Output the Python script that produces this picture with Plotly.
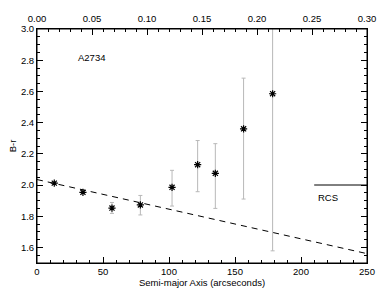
import plotly.graph_objects as go

# Data
radius = [13.1, 34.8, 56.8, 78.3, 102.3, 121.7, 135.1, 156.5, 178.5]
color_br = [2.012, 1.953, 1.852, 1.872, 1.985, 2.13, 2.075, 2.36, 2.585]
err_hi = [2.02, 1.96, 1.888, 1.933, 2.094, 2.285, 2.265, 2.685, 3.05]
err_lo = [2.005, 1.945, 1.818, 1.808, 1.865, 1.957, 1.85, 1.91, 1.578]
fit_x = [0, 250]
fit_y = [2.035, 1.56]
rcs_x = [210, 250]
rcs_y = [2.0, 2.0]

FONT = "Liberation Sans, Arial, sans-serif"
FS = 9.5

fig = go.Figure()

fig.add_trace(go.Scatter(
    x=fit_x, y=fit_y, mode="lines",
    line=dict(color="black", width=1, dash="6px,5px"),
    hoverinfo="skip", showlegend=False))

fig.add_trace(go.Scatter(
    x=rcs_x, y=rcs_y, mode="lines",
    line=dict(color="black", width=1),
    hoverinfo="skip", showlegend=False))

fig.add_trace(go.Scatter(
    x=radius, y=color_br, mode="markers",
    marker=dict(symbol="asterisk-open", size=6, color="black",
                line=dict(color="black", width=1.2)),
    error_y=dict(type="data", symmetric=False,
                 array=[h - v for h, v in zip(err_hi, color_br)],
                 arrayminus=[v - l for l, v in zip(err_lo, color_br)],
                 color="#b8b8b8", thickness=1, width=2),
    showlegend=False))

# invisible traces for the top and right axes
fig.add_trace(go.Scatter(x=[0, 0.30], y=[2.0, 2.0], xaxis="x2", yaxis="y", mode="markers",
                         marker=dict(opacity=0), hoverinfo="skip", showlegend=False))
fig.add_trace(go.Scatter(x=[0, 250], y=[2.0, 2.0], xaxis="x", yaxis="y2", mode="markers",
                         marker=dict(opacity=0), hoverinfo="skip", showlegend=False))

fig.add_annotation(x=29.5, y=2.82, text="A2734", showarrow=False, xanchor="left",
                   font=dict(family=FONT, size=FS, color="black"))
fig.add_annotation(x=211, y=1.92, text="RCS", showarrow=False, xanchor="left",
                   font=dict(family=FONT, size=FS, color="black"))

# frame around the plot area
fig.add_shape(type="rect", xref="paper", yref="paper", x0=0, x1=1, y0=0, y1=1,
              line=dict(color="black", width=1), layer="above")

axis_common = dict(showgrid=False, zeroline=False, showline=True, linecolor="black",
                   linewidth=1, ticks="inside", tickcolor="black", tickwidth=1,
                   automargin=False,
                   tickfont=dict(family=FONT, size=FS, color="black"))

fig.update_layout(
    width=390, height=303,
    margin=dict(l=37, r=23, t=29, b=40),
    paper_bgcolor="white", plot_bgcolor="white",
    xaxis=dict(range=[0, 250], dtick=50, tick0=0, ticklen=6,
               minor=dict(dtick=10, ticklen=3, ticks="inside", tickcolor="black"),
               title=dict(text="Semi-major Axis (arcseconds)", standoff=2,
                          font=dict(family=FONT, size=FS, color="black")),
               **axis_common),
    xaxis2=dict(range=[0, 0.30], dtick=0.05, tick0=0, ticklen=6, overlaying="x",
                side="top", anchor="y", tickformat=".2f", ticklabelstandoff=2,
                minor=dict(dtick=0.01, ticklen=3, ticks="inside", tickcolor="black"),
                **axis_common),
    yaxis=dict(range=[1.5, 3.0], dtick=0.2, tick0=1.6, ticklen=6,
               tickformat=".1f",
               minor=dict(dtick=0.05, ticklen=3, ticks="inside", tickcolor="black"),
               title=dict(text="B-r", standoff=2,
                          font=dict(family=FONT, size=FS, color="black")),
               **axis_common),
    yaxis2=dict(range=[1.5, 3.0], dtick=0.2, tick0=1.6, ticklen=6, overlaying="y",
                side="right", anchor="x", showticklabels=False,
                minor=dict(dtick=0.05, ticklen=3, ticks="inside", tickcolor="black"),
                **axis_common),
)

fig.write_html(
    "out.html",
    config={"displayModeBar": False},
    post_script="document.body.style.margin='0';document.body.style.overflow='hidden';",
)
